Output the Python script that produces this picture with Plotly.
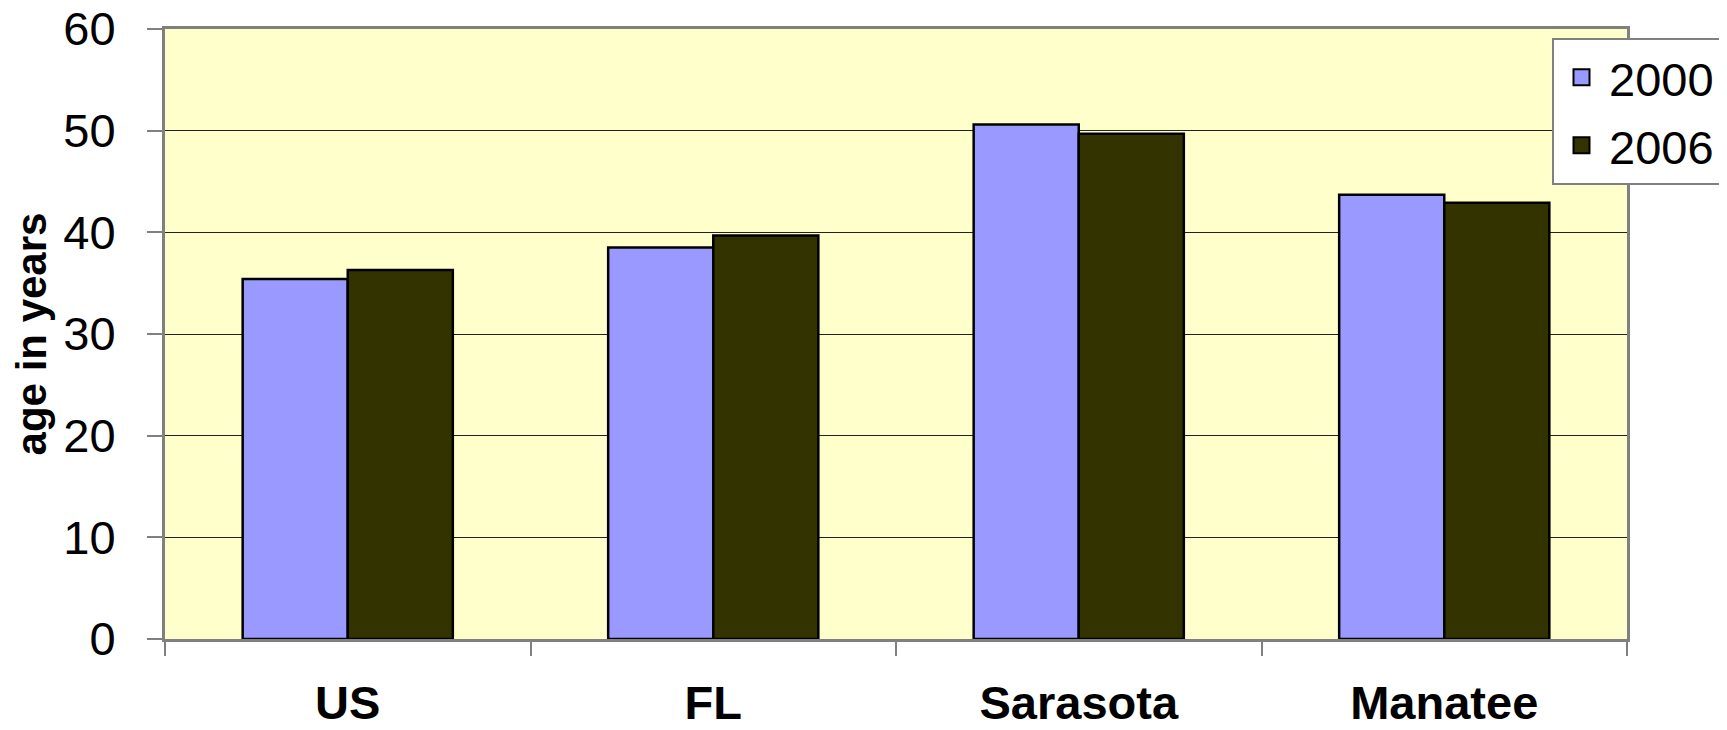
import plotly.graph_objects as go

categories = ["US", "FL", "Sarasota", "Manatee"]
age_2000 = [35.4, 38.5, 50.6, 43.7]
age_2006 = [36.3, 39.7, 49.7, 42.9]
series_names = ["2000", "2006"]
series_colors = ["#9999FF", "#333300"]
y_ticks = [0, 10, 20, 30, 40, 50, 60]

FONT = "Arial, Liberation Sans, sans-serif"

fig = go.Figure()
for name, vals, col in zip(series_names, [age_2000, age_2006], series_colors):
    fig.add_trace(go.Bar(name=name, x=categories, y=vals, showlegend=False,
                         marker=dict(color=col, line=dict(color="#000000", width=2.5))))
# legend entries with square swatches
for name, col in zip(series_names, series_colors):
    fig.add_trace(go.Scatter(name=name, x=[None], y=[None], mode="markers",
                             legendgroup=name,
                             marker=dict(symbol="square", size=26, color=col,
                                         line=dict(color="#000000", width=2))))

fig.update_layout(
    width=1727, height=730,
    margin=dict(l=157, r=108, t=21, b=99),
    paper_bgcolor="white",
    plot_bgcolor="#FFFFCC",
    barmode="group",
    bargap=0.425,
    bargroupgap=0,
    font=dict(family=FONT, color="black"),
    legend=dict(
        x=0.9487, y=0.985, xanchor="left", yanchor="top",
        bgcolor="white", bordercolor="#808080", borderwidth=2,
        font=dict(size=47, family=FONT),
        tracegroupgap=4,
        itemwidth=45,
    ),
    xaxis=dict(
        automargin=False,
        showgrid=False,
        ticks="outside", tickson="boundaries", ticklen=14, tickwidth=2, tickcolor="#808080",
        showline=True, linecolor="#808080", linewidth=3, mirror=True,
        tickfont=dict(size=47, family=FONT, weight="bold"),
        ticklabelstandoff=21,
        ticklabeloverflow="allow",
    ),
    yaxis=dict(
        automargin=False,
        range=[0, 60], tickvals=y_ticks,
        showgrid=True, gridcolor="#222222", gridwidth=1,
        ticks="outside", ticklen=15, tickwidth=2, tickcolor="#808080",
        showline=True, linecolor="#808080", linewidth=3, mirror=True,
        zeroline=False,
        tickfont=dict(size=47, family=FONT),
        ticklabelstandoff=22,
        ticklabeloverflow="allow",
        title=dict(text="age in years", standoff=22,
                   font=dict(size=42, family=FONT, weight="bold")),
    ),
)

fig.write_html("out.html")
